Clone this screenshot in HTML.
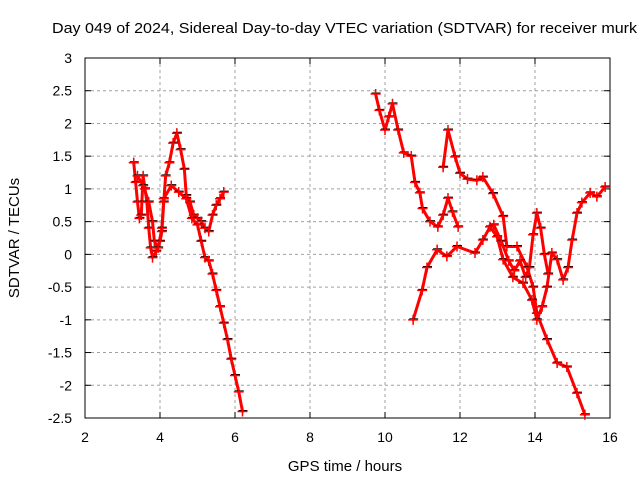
<!DOCTYPE html>
<html><head><meta charset="utf-8"><style>
body{margin:0;background:#fff}
svg{display:block;font-family:"Liberation Sans",sans-serif}
</style></head><body>
<svg id="chart" width="640" height="480"></svg>
<script>
const xTicks=[2,4,6,8,10,12,14,16];
const yTicks=[3,2.5,2,1.5,1,0.5,0,-0.5,-1,-1.5,-2,-2.5];
const trackA=[[3.3,1.4],[3.35,1.1],[3.4,0.8],[3.45,0.55],[3.5,0.6],[3.55,1.2],[3.6,1.0],[3.65,0.8],[3.7,0.4],[3.75,0.1],[3.8,-0.05],[3.9,0.05],[4.0,0.2],[4.05,0.35],[4.1,0.8],[4.15,1.2],[4.25,1.4],[4.35,1.7],[4.45,1.85],[4.55,1.6],[4.65,1.3],[4.7,0.9],[4.8,0.8],[4.9,0.6],[5.0,0.55],[5.1,0.5],[5.2,0.4],[5.3,0.35],[5.4,0.6],[5.5,0.75],[5.6,0.85],[5.7,0.95]];
const trackB=[[3.4,1.2],[3.55,1.05],[3.7,0.8],[3.8,0.5],[3.85,0.2],[3.95,0.1],[4.05,0.4],[4.1,0.85],[4.3,1.05],[4.5,0.95],[4.7,0.85],[4.85,0.55],[5.0,0.45],[5.1,0.2],[5.2,-0.05],[5.3,-0.1],[5.4,-0.3],[5.5,-0.55],[5.6,-0.8],[5.7,-1.05],[5.8,-1.3],[5.9,-1.6],[6.0,-1.85],[6.1,-2.1],[6.2,-2.4]];
const trackC=[[9.75,2.45],[9.85,2.2],[10.0,1.9],[10.1,2.1],[10.2,2.3],[10.35,1.9],[10.5,1.55],[10.7,1.5],[10.8,1.1],[10.93,0.94],[11.0,0.7],[11.2,0.5],[11.41,0.42],[11.55,0.6],[11.68,0.86],[11.8,0.65],[11.95,0.42]];
const trackD=[[11.55,1.33],[11.68,1.9],[11.87,1.49],[12.0,1.24],[12.2,1.15],[12.45,1.13],[12.61,1.18],[12.88,0.93],[13.15,0.58],[13.25,0.12],[13.52,0.12],[13.79,-0.2],[13.95,-0.5],[14.05,-0.9],[14.32,-1.3],[14.59,-1.66],[14.85,-1.72],[15.12,-2.12],[15.33,-2.45]];
const trackE=[[10.75,-1.0],[10.99,-0.55],[11.12,-0.2],[11.39,0.07],[11.65,-0.03],[11.92,0.12],[12.4,0.02],[12.61,0.22],[12.8,0.42],[12.99,0.27],[13.15,-0.08],[13.41,-0.35],[13.68,-0.44],[13.92,-0.7],[14.05,-1.0],[14.19,-0.8],[14.32,-0.5],[14.45,0.02],[14.59,-0.08],[14.75,-0.39],[14.88,-0.2],[14.99,0.22],[15.12,0.63],[15.25,0.79],[15.47,0.94],[15.65,0.88],[15.87,1.03]];
const trackF=[[12.9,0.45],[13.1,0.2],[13.3,-0.1],[13.45,-0.25],[13.6,-0.1],[13.75,-0.35],[13.85,-0.2],[13.95,0.3],[14.05,0.63],[14.15,0.4],[14.25,0.0],[14.35,-0.3]];
const tracks=[trackA,trackB,trackC,trackD,trackE,trackF];

const L=85,R=610,T=58,B=418;
const xs=v=>L+(v-2)/14*(R-L);
const ys=v=>T+(3-v)/5.5*(B-T);
const svg=document.getElementById('chart');
const NS='http://www.w3.org/2000/svg';
function mk(tag,attrs){const e=document.createElementNS(NS,tag);for(const k in attrs)e.setAttribute(k,attrs[k]);svg.appendChild(e);return e;}

xTicks.forEach(t=>{
  const x=xs(t);
  if(t>2&&t<16){const g=mk('line',{x1:x,x2:x,y1:T,y2:B,stroke:'#a0a0a0','stroke-dasharray':'3,3'});
  
  }
  mk('line',{x1:x,x2:x,y1:B,y2:B-6,stroke:'#000'});
  mk('line',{x1:x,x2:x,y1:T,y2:T+6,stroke:'#000'});
  const lb=mk('text',{x:x,y:B+24,'text-anchor':'middle','font-size':14});lb.textContent=t;
  
  
});
yTicks.forEach(t=>{
  const y=ys(t);
  if(t<3&&t>-2.5){const g=mk('line',{x1:L,x2:R,y1:y,y2:y,stroke:'#a0a0a0','stroke-dasharray':'3,3'});
  
  }
  mk('line',{x1:L,x2:L+6,y1:y,y2:y,stroke:'#000'});
  mk('line',{x1:R,x2:R-6,y1:y,y2:y,stroke:'#000'});
  const lb=mk('text',{x:L-13,y:y+5,'text-anchor':'end','font-size':14});lb.textContent=t;
  
  
});
const fr=mk('rect',{x:L,y:T,width:R-L,height:B-T,fill:'none',stroke:'#000'});



tracks.forEach(tr=>{
  const pts=tr.map(p=>xs(p[0])+','+ys(p[1])).join(' ');
  const band=mk('polyline',{points:pts,fill:'none',stroke:'#ff0000','stroke-width':3,'stroke-linejoin':'round','stroke-linecap':'round'});
  
  
  tr.forEach(p=>{
    const x=xs(p[0]),y=ys(p[1]);
    mk('path',{d:`M${x-4} ${y-1}h9M${x} ${y-5}v9`,stroke:'#000','stroke-width':1});
    const m=mk('path',{d:`M${x-5} ${y}h10M${x} ${y-5}v10`,stroke:'#ff0000','stroke-width':1.5});
    
    
  });
});

const title=mk('text',{x:52,y:33,'font-size':15,textLength:585,lengthAdjust:'spacingAndGlyphs'});
title.textContent='Day 049 of 2024, Sidereal Day-to-day VTEC variation (SDTVAR) for receiver murk';


const xt=mk('text',{x:345,y:471,'text-anchor':'middle','font-size':15});
xt.textContent='GPS time / hours';


const yt=mk('text',{x:19,y:238,'text-anchor':'middle','font-size':15,transform:'rotate(-90 19 238)'});
yt.textContent='SDTVAR / TECUs';


</script>
</body></html>
